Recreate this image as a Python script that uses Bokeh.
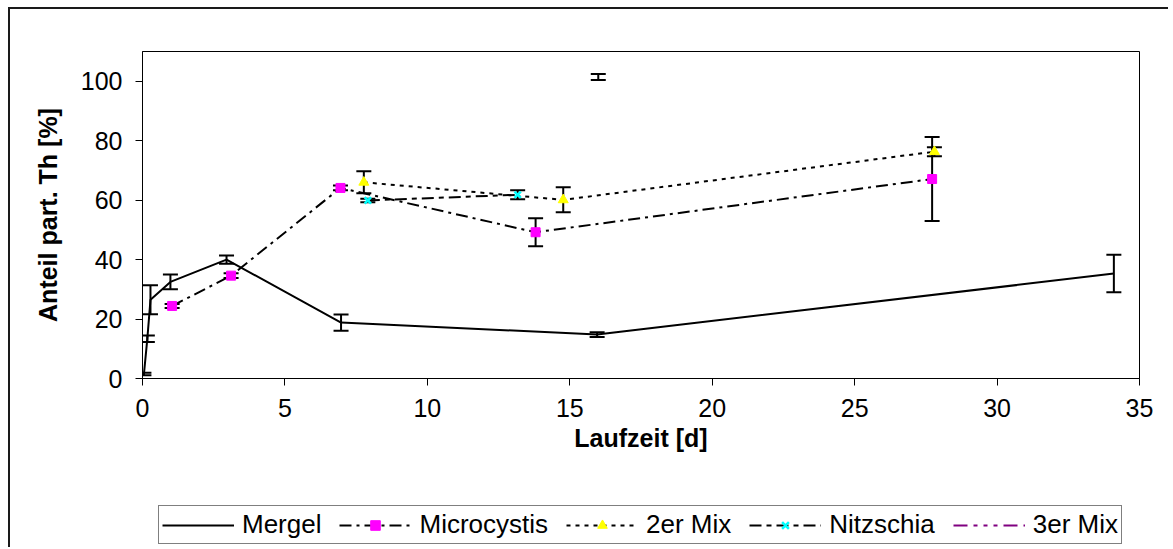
from bokeh.plotting import figure
from bokeh.layouts import column
from bokeh.models import (ColumnDataSource, Whisker, TeeHead, Legend, LegendItem,
                          Range1d, FixedTicker)
from bokeh.embed import file_html
from bokeh.resources import INLINE

# ---- data ----
mergel_x = [0.05, 0.17, 0.28, 0.98, 2.95, 6.97, 15.96, 34.1]
mergel_y = [1.5, 13.4, 26.5, 32.5, 40.0, 18.8, 14.8, 35.3]
mergel_err = [0.4, 1.1, 4.9, 2.5, 1.4, 2.7, 0.8, 6.3]

micro_x = [1.04, 3.11, 6.95, 13.8, 27.72]
micro_y = [24.4, 34.6, 64.1, 49.2, 67.1]
micro_err = [0.7, 0.8, 0.8, 4.7, 14.1]

mix2_x = [7.77, 14.77, 27.8]
mix2_y = [66.0, 60.1, 76.3]
mix2_err = [3.7, 4.2, 1.5]

nitz_x = [7.91, 13.17]
nitz_y = [59.9, 61.8]
nitz_err = [0.6, 1.5]

mix3_x = [16.0]
mix3_y = [101.4]
mix3_err = [1.0]

series_names = ["Mergel", "Microcystis", "2er Mix", "Nitzschia", "3er Mix"]
x_ticks = [0, 5, 10, 15, 20, 25, 30, 35]
y_ticks = [0, 20, 40, 60, 80, 100]

FONT = "Liberation Sans"
BORDER = "2px solid #1a1a1a"

# ---------------- main chart ----------------
p = figure(width=1160, height=481, output_backend="svg", toolbar_location=None,
           x_range=Range1d(0, 35), y_range=Range1d(0, 110),
           min_border_left=132, min_border_right=31, min_border_top=42,
           min_border_bottom=112)
p.styles = {"border-left": BORDER, "border-top": BORDER}
p.background_fill_color = "white"
p.border_fill_color = "white"
p.outline_line_color = "black"
p.outline_line_width = 1
p.grid.visible = False

for ax in (p.xaxis[0], p.yaxis[0]):
    ax.axis_line_color = "black"
    ax.axis_line_width = 1
    ax.major_tick_line_color = "black"
    ax.major_tick_out = 7
    ax.major_tick_in = 0
    ax.minor_tick_line_color = None
    ax.major_label_text_font = FONT
    ax.major_label_text_font_size = "25px"
    ax.major_label_text_color = "black"
    ax.axis_label_text_font = FONT
    ax.axis_label_text_font_size = "25px"
    ax.axis_label_text_font_style = "bold"
    ax.axis_label_text_color = "black"

p.xaxis.ticker = FixedTicker(ticks=x_ticks)
p.yaxis.ticker = FixedTicker(ticks=y_ticks)
p.xaxis.axis_label = "Laufzeit [d]"
p.yaxis.axis_label = "Anteil part. Th [%]"
p.xaxis.major_label_standoff = 13
p.yaxis.major_label_standoff = 13
p.xaxis.axis_label_standoff = 4
p.yaxis.axis_label_standoff = 16


def add_err(xs, ys, es):
    src = ColumnDataSource(dict(x=xs, lo=[y - e for y, e in zip(ys, es)],
                                hi=[y + e for y, e in zip(ys, es)]))
    w = Whisker(source=src, base="x", lower="lo", upper="hi", dimension="height",
                line_color="black", line_width=2, level="underlay",
                upper_head=TeeHead(size=15, line_width=2, line_color="black"),
                lower_head=TeeHead(size=15, line_width=2, line_color="black"))
    p.add_layout(w)


# series styles (used for the plot and for the legend)
styles = [
    dict(line=dict(line_color="black", line_width=2), marker=None),
    dict(line=dict(line_color="black", line_width=2, line_dash="12 5 3 5"),
         marker=dict(marker="square", size=9, fill_color="#FF00FF", line_color="#FF00FF")),
    dict(line=dict(line_color="black", line_width=2, line_dash="4 5"),
         marker=dict(marker="triangle", size=10, fill_color="#FFFF00", line_color="#FFFF00")),
    dict(line=dict(line_color="black", line_width=2, line_dash="12 5 5 5"),
         marker=dict(marker="x", size=9, line_color="#00FFFF", line_width=2.5)),
    dict(line=dict(line_color="#800080", line_width=2, line_dash="14 6 4 6 4 6 4 6"),
         marker=None),
]
data = [(mergel_x, mergel_y, mergel_err), (micro_x, micro_y, micro_err),
        (mix2_x, mix2_y, mix2_err), (nitz_x, nitz_y, nitz_err),
        (mix3_x, mix3_y, mix3_err)]

for (xs, ys, es), st in zip(data, styles):
    p.line(xs, ys, **st["line"])
    add_err(xs, ys, es)
    if st["marker"] is not None:
        p.scatter(xs, ys, **st["marker"])

# ---------------- legend strip ----------------
q = figure(width=1160, height=59, output_backend="svg", toolbar_location=None,
           x_axis_type=None, y_axis_type=None,
           x_range=Range1d(0, 1), y_range=Range1d(0, 1),
           min_border_left=132, min_border_right=31, min_border_top=0,
           min_border_bottom=0)
q.styles = {"border-left": BORDER}
q.outline_line_color = None
q.background_fill_color = "white"
q.border_fill_color = "white"

# legend-only renderers: a single point placed outside the visible range
hidden_x, hidden_y = [-5], [-5]
items = []
for name, st in zip(series_names, styles):
    rs = [q.line(hidden_x, hidden_y, **st["line"])]
    if st["marker"] is not None:
        rs.append(q.scatter(hidden_x, hidden_y, **st["marker"]))
    items.append(LegendItem(label=name, renderers=rs))

legend = Legend(items=items, orientation="horizontal", location=(16, 3))
legend.border_line_color = "black"
legend.border_line_width = 1
legend.background_fill_color = "white"
legend.background_fill_alpha = 1
legend.label_text_font = FONT
legend.label_text_font_size = "26px"
legend.label_text_color = "black"
legend.glyph_width = 72
legend.glyph_height = 24
legend.label_standoff = 8
legend.spacing = 18
legend.padding = 3
legend.margin = 0
legend.label_height = 24
q.add_layout(legend, "center")

layout = column(p, q, spacing=0)
layout.margin = (7, 0, 0, 8)

open("out.html", "w").write(file_html(layout, INLINE))
